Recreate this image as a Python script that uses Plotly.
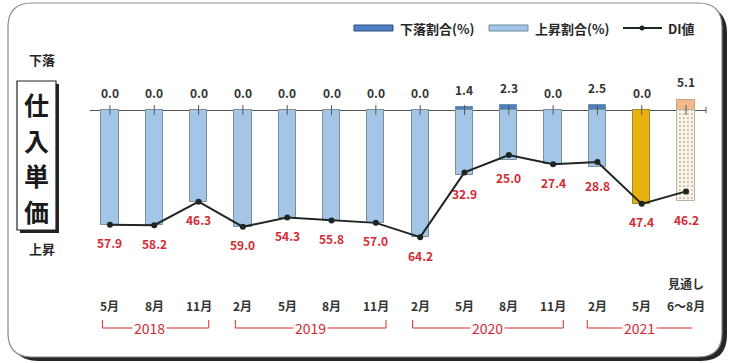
import plotly.graph_objects as go

# ---- data -------------------------------------------------------------
months = ["5月", "8月", "11月", "2月", "5月", "8月", "11月",
          "2月", "5月", "8月", "11月", "2月", "5月", "6〜8月"]
decline = [0.0, 0.0, 0.0, 0.0, 0.0, 0.0, 0.0, 0.0, 1.4, 2.3, 0.0, 2.5, 0.0, 5.1]          # 下落割合(%)
rise = [57.9, 58.2, 46.3, 59.0, 54.3, 55.8, 57.0, 64.2, 32.9, 25.0, 27.4, 28.8, 47.4, 46.2]  # 上昇割合(%)
di = [-57.9, -58.2, -46.3, -59.0, -54.3, -55.8, -57.0, -64.2,
      -31.5, -22.7, -27.4, -26.3, -47.4, -41.1]                                           # DI値
years = ["2018", "2019", "2020", "2021"]
year_first = [0, 3, 7, 11]
year_last = [2, 6, 10, 13]
outlook_label = "見通し"
title_chars = ["仕", "入", "単", "価"]

# ---- geometry of the page --------------------------------------------
W, H = 736, 363
ML, MR, MT, MB = 90, 30, 60, 93
XR = [-0.45, 13.45]
YR = [-80.8, 25.25]
PW, PH = W - ML - MR, H - MT - MB


def px_x(p):
    return (p - ML) / PW


def px_y(p):
    return (H - MB - p) / PH


def idx_x(i):
    return (i - XR[0]) / (XR[1] - XR[0])


def rounded_rect(x0, y0, x1, y1, r):
    a, b, c, d = px_x(x0), px_x(x1), px_y(y0), px_y(y1)
    rx, ry = r / PW, r / PH
    return (f"M {a + rx},{c} L {b - rx},{c} Q {b},{c} {b},{c - ry} "
            f"L {b},{d + ry} Q {b},{d} {b - rx},{d} "
            f"L {a + rx},{d} Q {a},{d} {a},{d + ry} "
            f"L {a},{c - ry} Q {a},{c} {a + rx},{c} Z")


def rect(x0, y0, x1, y1):
    return dict(x0=px_x(x0), x1=px_x(x1), y0=px_y(y1), y1=px_y(y0))


x = list(range(len(months)))
n = len(x)

FONT = "Noto Sans CJK JP, Noto Sans, sans-serif"
DARK = "#262626"
RED = "#d42a32"
LIGHT_BLUE = "#a3c6e8"
DARK_BLUE = "#4d80c2"

rise_colors = [LIGHT_BLUE] * (n - 2) + ["#e9b10f", "#fbf4e6"]
rise_lines = ["#7d8f95"] * (n - 2) + ["#9b8a2c", "#b9b0a0"]
decline_colors = [DARK_BLUE] * (n - 1) + ["#f2b98c"]
decline_lines = ["#6d8fa8"] * (n - 1) + ["#c9a27e"]

fig = go.Figure()

fig.add_trace(go.Bar(
    x=x, y=decline, width=0.39, name="下落割合(%)",
    marker=dict(color=decline_colors, line=dict(color=decline_lines, width=1)),
    showlegend=False, hoverinfo="skip"))

fig.add_trace(go.Bar(
    x=x, y=[-v for v in rise], width=0.39, name="上昇割合(%)",
    marker=dict(color=rise_colors, line=dict(color=rise_lines, width=1),
                pattern=dict(shape=[""] * (n - 1) + ["."], fillmode="overlay",
                             fgcolor="#f2e7d3", size=4, solidity=0.15)),
    showlegend=False, hoverinfo="skip"))

# category ticks on the zero line
fig.add_trace(go.Scatter(
    x=x, y=[0] * n, mode="markers",
    marker=dict(symbol="line-ns", size=7, line=dict(color="#555", width=1)),
    showlegend=False, hoverinfo="skip"))

fig.add_trace(go.Scatter(
    x=x, y=di, mode="lines+markers", name="DI値",
    line=dict(color="#1e2522", width=2),
    marker=dict(color="#1e2522", size=6),
    showlegend=False, hoverinfo="skip"))


def note(px, py, text, size=13, color=DARK, **kw):
    return dict(x=px_x(px), y=px_y(py), xref="paper", yref="paper",
                xanchor=kw.pop("xanchor", "center"), yanchor="middle",
                text=text, showarrow=False,
                font=dict(family=FONT, size=size, color=color), **kw)


annotations = []
# value labels above (下落) and below (上昇), month labels underneath
for i in x:
    annotations.append(dict(x=i, y=decline[i], xref="x", yref="y", yshift=18,
                            xanchor="center", yanchor="middle",
                            text=f"<b>{decline[i]:.1f}</b>", showarrow=False,
                            font=dict(family=FONT, size=12, color="#333")))
    annotations.append(dict(x=i, y=-rise[i], xref="x", yref="y", yshift=-18,
                            xanchor="center", yanchor="middle",
                            text=f"<b>{rise[i]:.1f}</b>", showarrow=False,
                            font=dict(family=FONT, size=12, color=RED)))
    annotations.append(dict(x=i, y=px_y(305), xref="x", yref="paper",
                            xanchor="center", yanchor="middle",
                            text=f"<b>{months[i]}</b>", showarrow=False,
                            font=dict(family=FONT, size=12, color="#333")))
annotations.append(dict(x=n - 1, y=px_y(283), xref="x", yref="paper",
                        xanchor="center", yanchor="middle",
                        text=f"<b>{outlook_label}</b>", showarrow=False,
                        font=dict(family=FONT, size=12, color="#333")))

shapes = []
# outer frame with heavy shadow on right and bottom
shapes.append(dict(type="path", xref="paper", yref="paper", layer="below",
                   path=rounded_rect(12, 7, 727, 361, 26),
                   fillcolor="#262626", line=dict(width=0)))
shapes.append(dict(type="path", xref="paper", yref="paper", layer="below",
                   path=rounded_rect(8, 3, 722, 357, 24),
                   fillcolor="white", line=dict(color="#8a8a8a", width=1.2)))

# vertical title box, one character per row
shapes.append(dict(type="rect", xref="paper", yref="paper", layer="below",
                   **rect(20, 84, 59, 233), fillcolor="#222", line=dict(width=0)))
shapes.append(dict(type="rect", xref="paper", yref="paper", layer="below",
                   **rect(17, 81, 56, 230), fillcolor="white",
                   line=dict(color="#222", width=1.2)))
for k, ch in enumerate(title_chars):
    annotations.append(note(36.5, 104 + 35.5 * k, f"<b>{ch}</b>", size=25,
                            color="#1a1a1a", borderpad=0))
annotations.append(note(42, 59, "<b>下落</b>", size=13))
annotations.append(note(42, 248, "<b>上昇</b>", size=13))

# end tick at the right of the zero line
shapes.append(dict(type="line", xref="paper", yref="y", x0=1, x1=1,
                   y0=-1.6, y1=1.6, line=dict(color="#555", width=1)))

# year brackets
for k, yr in enumerate(years):
    last = k == len(years) - 1
    xa = idx_x(year_first[k] - (0.23 if last else 0.17))
    xb = idx_x(year_last[k] + (0.14 if last else 0.23))
    yt, yb = px_y(320), px_y(328)
    shapes.append(dict(type="path", xref="paper", yref="paper",
                       path=(f"M {xa},{yt} L {xa},{yb} L {xb},{yb}"
                             + ("" if last else f" L {xb},{yt}")),
                       line=dict(color=RED, width=1)))
    annotations.append(dict(x=(xa + xb) / 2, y=yb, xref="paper", yref="paper",
                            xanchor="center", yanchor="middle",
                            text=yr, showarrow=False, bgcolor="white",
                            borderpad=1, xshift=-6 if k == 0 else 0,
                            font=dict(family=FONT, size=14, color=RED)))

# legend drawn at the top right
shapes.append(dict(type="rect", xref="paper", yref="paper",
                   **rect(354, 25, 393, 31), fillcolor=DARK_BLUE,
                   line=dict(color="#2f4f7a", width=1)))
annotations.append(note(398, 28, "<b>下落割合(%)</b>", xanchor="left"))
shapes.append(dict(type="rect", xref="paper", yref="paper",
                   **rect(489, 25, 528, 31), fillcolor=LIGHT_BLUE,
                   line=dict(color="#6f8aa0", width=1)))
annotations.append(note(533, 28, "<b>上昇割合(%)</b>", xanchor="left"))
shapes.append(dict(type="line", xref="paper", yref="paper",
                   x0=px_x(623), x1=px_x(662), y0=px_y(28), y1=px_y(28),
                   line=dict(color="#1e2522", width=2)))
shapes.append(dict(type="circle", xref="paper", yref="paper",
                   x0=px_x(639.5), x1=px_x(644.5), y0=px_y(30.5), y1=px_y(25.5),
                   fillcolor="#1e2522", line=dict(width=0)))
annotations.append(note(666, 28, "<b>DI値</b>", xanchor="left"))

fig.update_layout(
    width=W, height=H,
    margin=dict(l=ML, r=MR, t=MT, b=MB),
    paper_bgcolor="white", plot_bgcolor="rgba(0,0,0,0)",
    barmode="relative", bargap=0,
    showlegend=False,
    xaxis=dict(range=XR, visible=False, fixedrange=True),
    yaxis=dict(range=YR, showticklabels=False, showgrid=False, ticks="",
               zeroline=True, zerolinecolor="#555", zerolinewidth=1,
               fixedrange=True),
    shapes=shapes, annotations=annotations,
    font=dict(family=FONT),
)

fig.write_html("out.html")
